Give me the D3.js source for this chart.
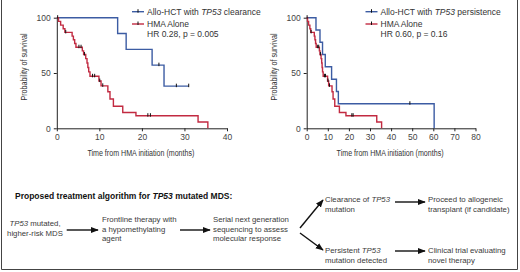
<!DOCTYPE html>
<html>
<head>
<meta charset="utf-8">
<script src="https://cdn.jsdelivr.net/npm/d3@7"></script>
<style>
  html, body { margin: 0; padding: 0; background: #fff; }
  svg { display: block; font-family: "Liberation Sans", Arial, sans-serif; }
</style>
</head>
<body>
<svg id="fig" width="520" height="272"></svg>
<script>
// HMA alone (shared by both panels)
const hmaTime = [0, 0.4, 0.9, 1.5, 1.9, 3.6, 3.9, 4.2, 4.5, 6.0, 6.3, 6.8, 7.1, 7.3, 7.5, 7.8, 9.9, 10.4, 12.0, 12.5, 13.3, 15.5, 18.6, 33.2, 35.5];
const hmaSurv = [100, 96.7, 93.3, 90, 86.7, 83.3, 80, 76.7, 73.3, 70, 66.7, 63, 59, 55, 51, 47, 42.7, 38.4, 33, 26.5, 20, 14.3, 11.4, 5.7, 0];
const hmaCensor = [0.2, 2.1, 5.2, 5.7, 6.5, 8.4, 8.9, 10.1, 10.8, 21.4, 22.0];

// Allo-HCT with TP53 clearance
const clearTime = [0, 14.3, 16.3, 22.4, 25.2, 31];
const clearSurv = [100, 85.7, 71.4, 57.1, 38.1, 38.1];
const clearCensor = [24.0, 28.1, 31];

// Allo-HCT with TP53 persistence
const persTime = [0, 4.4, 6.3, 7.5, 8.8, 11.8, 14.1, 15.0, 60.4];
const persSurv = [100, 88.9, 77.8, 66.7, 55.6, 44.4, 33.3, 22.2, 0];
const persCensor = [48.9];

const yTicks = [0, 50, 100];
const xTicksLeft = [0, 10, 20, 30, 40];
const xTicksRight = [0, 10, 20, 30, 40, 50, 60, 70, 80];

const blue = "#3c5ca3", red = "#c22a41", ink = "#333";
const svg = d3.select("#fig");

// frame
svg.append("path").attr("d", "M1.5,0V269.5H517.5V0")
  .attr("fill", "none").attr("stroke", "#444").attr("stroke-width", 1);

function panel(opt) {
  const x = d3.scaleLinear().domain([0, opt.xMax]).range(opt.xr);
  const y = d3.scaleLinear().domain([0, 100]).range([128.3, 17.7]);
  const g = svg.append("g");

  const xa = g.append("g").attr("transform", "translate(0,128.3)")
    .call(d3.axisBottom(x).tickValues(opt.xTicks).tickSize(3).tickPadding(3).tickSizeOuter(0));
  const ya = g.append("g").attr("transform", `translate(${opt.xr[0]},0)`)
    .call(d3.axisLeft(y).tickValues(yTicks).tickSize(3).tickPadding(3).tickSizeOuter(0));
  [xa, ya].forEach(a => {
    a.select(".domain").attr("stroke", "#222");
    a.selectAll(".tick line").attr("stroke", "#222");
    a.selectAll("text").attr("fill", "#444").style("font-size", "8.5px")
      .style("font-family", "'Liberation Sans', Arial, sans-serif");
  });

  g.append("text").attr("x", (opt.xr[0] + opt.xr[1]) / 2 - 1).attr("y", 156)
    .attr("text-anchor", "middle").attr("fill", ink).style("font-size", "8.5px")
    .attr("textLength", 107).attr("lengthAdjust", "spacingAndGlyphs")
    .text("Time from HMA initiation (months)");
  g.append("text").attr("transform", `translate(${opt.yTitleX},67) rotate(-90)`)
    .attr("text-anchor", "middle").attr("fill", ink).style("font-size", "8.5px")
    .attr("textLength", 67).attr("lengthAdjust", "spacingAndGlyphs")
    .text("Probability of survival");

  const line = d3.line().x(d => x(d[0])).y(d => y(d[1])).curve(d3.curveStepAfter);
  function stepAt(times, surv, t) {
    let v = surv[0];
    times.forEach((tt, i) => { if (tt <= t) v = surv[i]; });
    return v;
  }
  opt.series.forEach(s => {
    g.append("path").datum(d3.zip(s.time, s.surv)).attr("d", line)
      .attr("fill", "none").attr("stroke", s.color).attr("stroke-width", 1.4);
    g.selectAll(null).data(s.censor).enter().append("line")
      .attr("x1", d => x(d)).attr("x2", d => x(d))
      .attr("y1", d => y(stepAt(s.time, s.surv, d)) - 2.5)
      .attr("y2", d => y(stepAt(s.time, s.surv, d)) + 1)
      .attr("stroke", "#111").attr("stroke-width", 1);
  });

  // legend
  const lg = g.append("g").attr("transform", `translate(${opt.legX},0)`);
  opt.series.forEach((s, i) => {
    const yy = 11.7 + i * 12.3;
    lg.append("line").attr("x1", 0).attr("x2", 12).attr("y1", yy).attr("y2", yy)
      .attr("stroke", s.color).attr("stroke-width", 1.4);
    lg.append("line").attr("x1", 6).attr("x2", 6).attr("y1", yy - 2.5).attr("y2", yy + 1)
      .attr("stroke", "#111");
    const t = lg.append("text").attr("x", 15).attr("y", yy + 3).attr("fill", ink)
      .style("font-size", "8.5px");
    s.label.split("*").forEach((part, k) => {
      t.append("tspan").attr("font-style", k % 2 ? "italic" : "normal").text(part);
    });
  });
  lg.append("text").attr("x", 15).attr("y", 37).attr("fill", ink)
    .style("font-size", "8.5px").text(opt.hr);
}

panel({
  xMax: 40, xr: [56.8, 227], xTicks: xTicksLeft, yTitleX: 27, legX: 132,
  hr: "HR 0.28, p = 0.005",
  series: [
    { time: clearTime, surv: clearSurv, censor: clearCensor, color: blue, label: "Allo-HCT with *TP53* clearance" },
    { time: hmaTime, surv: hmaSurv, censor: hmaCensor, color: red, label: "HMA Alone" }
  ]
});
panel({
  xMax: 80, xr: [306.7, 475.5], xTicks: xTicksRight, yTitleX: 277, legX: 365.5,
  hr: "HR 0.60, p = 0.16",
  series: [
    { time: persTime, surv: persSurv, censor: persCensor, color: blue, label: "Allo-HCT with *TP53* persistence" },
    { time: hmaTime, surv: hmaSurv, censor: hmaCensor, color: red, label: "HMA Alone" }
  ]
});

// treatment algorithm
svg.append("text").attr("x", 15).attr("y", 199).attr("fill", "#111")
  .style("font-size", "8.5px").style("font-weight", "bold")
  .selectAll("tspan").data(["Proposed treatment algorithm for ", "TP53", " mutated MDS:"])
  .enter().append("tspan").attr("font-style", (d, i) => i === 1 ? "italic" : "normal").text(d => d);

const flowText = [
  ["*TP53* mutated,", "higher-risk MDS"],
  ["Frontline therapy with", "a hypomethylating", "agent"],
  ["Serial next generation", "sequencing to assess", "molecular response"],
  ["Clearance of *TP53*", "mutation"],
  ["Proceed to allogeneic", "transplant (if candidate)"],
  ["Persistent *TP53*", "mutation detected"],
  ["Clinical trial evaluating", "novel therapy"]
];
const flowPos = [
  { x: 35, y: 226, anchor: "middle" },
  { x: 102, y: 222, anchor: "start" },
  { x: 213, y: 222, anchor: "start" },
  { x: 325, y: 202, anchor: "start" },
  { x: 428, y: 202, anchor: "start" },
  { x: 325, y: 253, anchor: "start" },
  { x: 428, y: 253, anchor: "start" }
];
flowText.forEach((lines, i) => {
  const p = flowPos[i];
  lines.forEach((ln, j) => {
    const t = svg.append("text").attr("x", p.x).attr("y", p.y + j * 9.6)
      .attr("text-anchor", p.anchor).attr("fill", "#3a3a3a").style("font-size", "7.8px");
    ln.split("*").forEach((part, k) => {
      t.append("tspan").attr("font-style", k % 2 ? "italic" : "normal").text(part);
    });
  });
});

svg.append("defs").append("marker").attr("id", "ah").attr("viewBox", "0 0 10 10")
  .attr("refX", 9).attr("refY", 5).attr("markerWidth", 8).attr("markerHeight", 8)
  .attr("markerUnits", "userSpaceOnUse").attr("orient", "auto")
  .append("path").attr("d", "M0,1L10,5L0,9Z").attr("fill", "#111");
const arrows = [
  [66.7, 230, 98, 230], [180, 230, 210, 230],
  [300, 228, 323, 200], [300, 233, 323, 250],
  [395, 202, 425, 202], [395, 251, 425, 251]
];
svg.selectAll(".arr").data(arrows).enter().append("line").attr("class", "arr")
  .attr("x1", d => d[0]).attr("y1", d => d[1]).attr("x2", d => d[2]).attr("y2", d => d[3])
  .attr("stroke", "#111").attr("stroke-width", 1.4).attr("marker-end", "url(#ah)");
</script>
</body>
</html>
